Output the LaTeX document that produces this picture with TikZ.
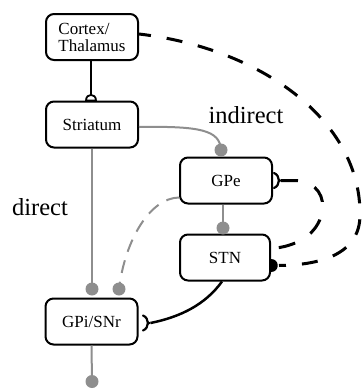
\documentclass[tikz,border=0pt]{standalone}
\usepackage{fontspec}
\setmainfont{Liberation Serif}
\usetikzlibrary{calc}
\definecolor{pathgray}{HTML}{8E8E8E}
\tikzset{
  nucleus/.style={draw=black, line width=2pt, rounded corners=8pt, fill=white,
    minimum width=92pt, minimum height=46pt, inner sep=0pt,
    font=\fontsize{17}{17}\selectfont},
  pathlabel/.style={font=\fontsize{24.5}{24.5}\selectfont, anchor=base, inner sep=0pt},
  graypath/.style={draw=pathgray, line width=2pt},
  blackpath/.style={draw=black, line width=2.5pt},
  longdash/.style={draw=black, line width=3pt, dash pattern=on 16pt off 16pt, dash phase=4pt},
  loopdash/.style={draw=black, line width=3pt, dash pattern=on 17pt off 18pt},
  graydash/.style={draw=pathgray, line width=2pt, dash pattern=on 13pt off 9pt},
  % inhibitory fork terminal, opening towards -x
  fork/.pic={
    \draw[line width=2.2pt, line cap=round] (0,-7.5) .. controls (6.5,-5) and (6.5,5) .. (0,7.5);
    \fill (4,-2.5) -- (8,0) -- (4,2.5) -- cycle;
  },
  % excitatory terminal, half disc bulging towards +x
  dome/.pic={
    \fill (0,-6.5) .. controls (8.5,-6.5) and (8.5,6.5) .. (0,6.5) -- cycle;
  }
}
\begin{document}
\begin{tikzpicture}[x=1pt,y=-1pt]
\useasboundingbox (0,0) rectangle (362,389);

% nuclei
\node[nucleus, align=left] (ctx) at (92,37) {Cortex/\\Thalamus};
\node[nucleus] (str) at (92,124.5) {Striatum};
\node[nucleus] (gpe) at (226,180.5) {GPe};
\node[nucleus, minimum width=90pt] (stn) at (225,257.5) {STN};
\node[nucleus] (gpi) at (91.5,321.5) {GPi/SNr};

% pathway labels
\node[pathlabel] (lind) at (246,123) {indirect};
\node[pathlabel] (ldir) at (40,215) {direct};

% end points of the gray projections
\coordinate (dgpe) at (221,150);
\coordinate (dgpi1) at (92,289);
\coordinate (dgpi2) at (119,289);
\coordinate (dstn) at (223,228);
\coordinate (out) at (92,381.5);

% cortex -> striatum
\draw[blackpath] ([xshift=-1pt]ctx.south) -- ($(str.north)+(-1,-6)$);
\draw[line width=1.8pt, fill=white] ($(str.north)+(-6,0)$) .. controls ($(str.north)+(-6,-7.5)$) and ($(str.north)+(4,-7.5)$) .. ($(str.north)+(4,0)$) -- cycle;

% cortex -> STN (hyperdirect)
\draw[longdash] ([yshift=3pt]ctx.east) .. controls (260,48) and (361,120) .. (360,215)
  .. controls (360,252) and (325,265) .. ($(stn.east)+(8,8)$);
\pic at ($(stn.east)+(0,8)$) {dome};

% GPe <-> STN loop
\pic at ($(gpe.east)+(1,0)$) {fork};
\draw[loopdash] ($(gpe.east)+(8,0)$) -- (296,180.5)
  .. controls (318,182) and (325,198) .. (322,212)
  .. controls (318,235) and (295,247) .. ([yshift=9pt]stn.east);

% striatum -> GPe
\draw[graypath] ([yshift=-2.5pt]str.east) .. controls (200,126) and (220,130) .. (dgpe);
% striatum -> GPi (direct)
\draw[graypath] (str.south) -- (dgpi1);
% GPe -> STN
\draw[graypath] (gpe.south -| dstn) -- (dstn);
% GPe -> GPi
\draw[graydash] ([yshift=7pt]gpe.south west) .. controls (150,198) and (125,240) .. (dgpi2);
% STN -> GPi
\draw[blackpath] ($(stn.south)+(-3,0)$) .. controls (205,305) and (180,317) .. ($(gpi.east)+(12,1.5)$);
\pic at ($(gpi.east)+(4.5,1.5)$) {fork};
% GPi/SNr output
\draw[graypath] (gpi.south) -- (out);

% gray terminals
\foreach \d in {dgpe,dgpi1,dgpi2,dstn,out}
  \fill[pathgray] (\d) circle (6.5pt);
\end{tikzpicture}
\end{document}
